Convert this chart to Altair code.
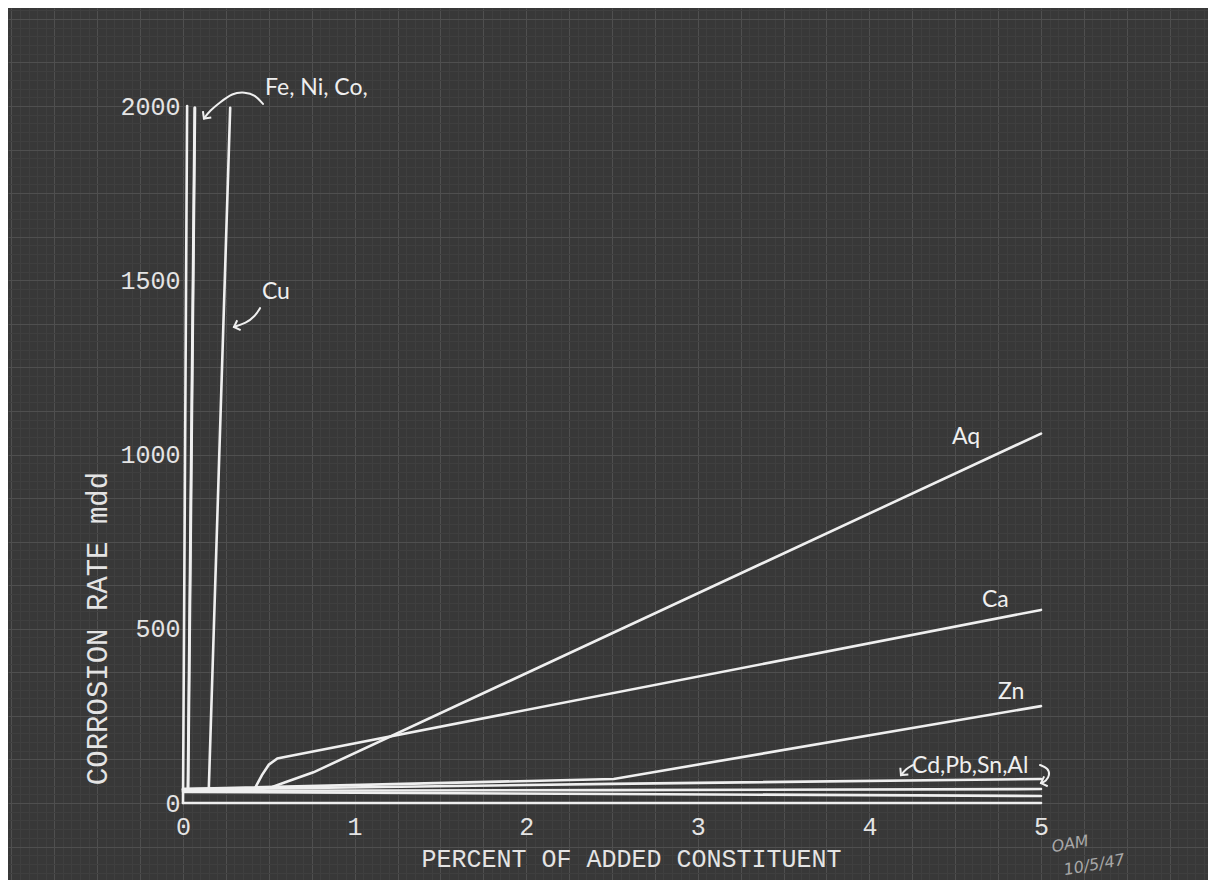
import altair as alt
import pandas as pd

# ---------------- data ----------------
fe_x = [0.0, 0.024];  fe_y = [0, 2000]
ni_x = [0.030, 0.070]; ni_y = [35, 1995]
co_x = [0.028, 0.068]; co_y = [35, 1995]
cu_x = [0.150, 0.275]; cu_y = [35, 1995]
ag_x = [0.0, 0.46, 0.52, 0.60, 0.76, 5.0]; ag_y = [38, 42, 46, 60, 88, 1060]
ca_x = [0.0, 0.42, 0.46, 0.50, 0.55, 0.60, 5.0]; ca_y = [40, 43, 80, 110, 128, 133, 554]
zn_x = [0.0, 2.51, 5.0]; zn_y = [40, 69, 278]
cd_x = [0.0, 2.5, 5.0]; cd_y = [38, 55, 69]
pb_x = [0.0, 2.5, 5.0]; pb_y = [35, 37, 40]
sn_x = [0.0, 2.5, 5.0]; sn_y = [32, 26, 20]
al_x = [0.0, 5.0];      al_y = [0, 0]

series = {
    "Fe": (fe_x, fe_y), "Ni": (ni_x, ni_y), "Co": (co_x, co_y), "Cu": (cu_x, cu_y),
    "Ag": (ag_x, ag_y), "Ca": (ca_x, ca_y), "Zn": (zn_x, zn_y), "Cd": (cd_x, cd_y),
    "Pb": (pb_x, pb_y), "Sn": (sn_x, sn_y), "Al": (al_x, al_y),
}

x_tick_values = [0, 1, 2, 3, 4, 5]
y_tick_values = [0, 500, 1000, 1500, 2000]

label_text = ["Fe, Ni, Co,", "Cu", "Aq", "Ca", "Zn", "Cd,Pb,Sn,Al"]
label_x = [0.478, 0.460, 4.481, 4.656, 4.749, 4.248]
label_y = [2052, 1466, 1050, 582, 318, 106]

# hand-drawn annotation arrows (data units)
fe_arrow_x = [0.466, 0.420, 0.361, 0.286, 0.216, 0.157, 0.122]
fe_arrow_y = [2006, 2032, 2040, 2037, 2010, 1987, 1964]
cu_arrow_x = [0.449, 0.420, 0.367, 0.297]
cu_arrow_y = [1420, 1397, 1377, 1366]
cd_arrow_x = [4.254, 4.213, 4.184]
cd_arrow_y = [109, 98, 80]
br_arrow_x = [4.994, 5.041, 5.052, 5.029, 5.000]
br_arrow_y = [109, 100, 80, 63, 57]
arrow_tip_angle = [37, 71, 40, 70]

sig_text = ["OAM", "10/5/47"]
sig_x = [5.17, 5.31]
sig_y = [-118, -178]

# ---------------- tables ----------------
rows = []
for name, (xs, ys) in series.items():
    for i, (a, b) in enumerate(zip(xs, ys)):
        rows.append({"series": name, "x": a, "y": b, "order": i})
lines_df = pd.DataFrame(rows)

arrows = {"fe": (fe_arrow_x, fe_arrow_y), "cu": (cu_arrow_x, cu_arrow_y),
          "cd": (cd_arrow_x, cd_arrow_y), "br": (br_arrow_x, br_arrow_y)}
arows, heads = [], []
for k, (name, (xs, ys)) in enumerate(arrows.items()):
    for i, (a, b) in enumerate(zip(xs, ys)):
        arows.append({"arrow": name, "x": a, "y": b, "order": i})
    heads.append({"arrow": name, "x": xs[-1], "y": ys[-1], "ang": arrow_tip_angle[k]})
arrow_df = pd.DataFrame(arows)
head_df = pd.DataFrame(heads)

label_df = pd.DataFrame({"text": label_text, "x": label_x, "y": label_y})
sig_df = pd.DataFrame({"text": sig_text, "x": sig_x, "y": sig_y})

# ---------------- layout ----------------
W, H = 1200, 872
X0, PX_PER_X = 175, 171.6
Y0, PX_PER_Y = 795, 0.3485
xdom = [-X0 / PX_PER_X, (W - X0) / PX_PER_X]
ydom = [-(H - Y0) / PX_PER_Y, Y0 / PX_PER_Y]

BG = "#383838"
INK = "#efefef"
TXT = "#e4e4e4"
GRID_FINE = "#3f3f3f"
GRID_MAJOR = "#4f4f4f"

xgrid_vals = [round(i * 0.05, 4) for i in range(-20, 120)]
ygrid_vals = list(range(-200, 2276, 25))

x_lab_expr = "indexof([%s], datum.value) >= 0 ? format(datum.value, 'd') : ''" % ",".join(str(v) for v in x_tick_values)
y_lab_expr = "indexof([%s], datum.value) >= 0 ? format(datum.value, 'd') : ''" % ",".join(str(v) for v in y_tick_values)

xaxis = alt.Axis(
    values=xgrid_vals, grid=True, domain=False, ticks=False, tickSize=0,
    gridColor={"condition": {"test": "abs(datum.value*4 - round(datum.value*4)) < 0.001", "value": GRID_MAJOR},
               "value": GRID_FINE},
    gridWidth=1,
    offset=-(H - Y0), labelExpr=x_lab_expr, labelOverlap=False, labelFlush=False,
    labelFont="Liberation Mono", labelFontSize=25, labelColor=TXT, labelPadding=23,
    labelBaseline="middle", labelAlign="center",
    title="PERCENT OF ADDED CONSTITUENT", titleFont="Liberation Mono", titleFontSize=25,
    titleFontWeight="normal", titleColor=TXT, titleX=623, titleY=55,
    titleBaseline="middle", titleAlign="center",
)
yaxis = alt.Axis(
    values=ygrid_vals, grid=True, domain=False, ticks=False, tickSize=0,
    gridColor={"condition": {"test": "datum.value % 125 == 0", "value": GRID_MAJOR},
               "value": GRID_FINE},
    gridWidth=1,
    offset=-X0, labelExpr=y_lab_expr, labelOverlap=False, labelFlush=False,
    labelFont="Liberation Mono", labelFontSize=25, labelColor=TXT, labelPadding=3,
    labelBaseline="middle",
    title="CORROSION RATE mdd", titleFont="Liberation Mono", titleFontSize=29,
    titleFontWeight="normal", titleColor=TXT, titleX=-86, titleY=620, titleAngle=270,
    titleBaseline="middle", titleAlign="center",
)

xs = alt.Scale(domain=xdom, nice=False, zero=False)
ys = alt.Scale(domain=ydom, nice=False, zero=False)
X = alt.X("x:Q", scale=xs, axis=xaxis)
Y = alt.Y("y:Q", scale=ys, axis=yaxis)

lines = alt.Chart(lines_df).mark_line(color=INK, strokeWidth=2.6, strokeCap="round").encode(
    x=X, y=Y, detail="series:N", order="order:Q")

arrow_lines = alt.Chart(arrow_df).mark_line(color=INK, strokeWidth=2, interpolate="basis",
                                            strokeCap="round").encode(
    x=X, y=Y, detail="arrow:N", order="order:Q")

heads_m = alt.Chart(head_df).mark_point(shape="M -1 -1 L 0 0 L 1 -1", filled=False, color=INK,
                                        strokeWidth=2, size=110, opacity=1).encode(
    x=X, y=Y, angle=alt.Angle("ang:Q", scale=None))

labels = alt.Chart(label_df).mark_text(align="left", baseline="middle", font="Lato", fontSize=23,
                                       color=INK).encode(x=X, y=Y, text="text:N")

sig = alt.Chart(sig_df).mark_text(align="center", baseline="middle", font="DejaVu Sans",
                                  fontStyle="italic", fontSize=16, color="#a8a8a8",
                                  angle=350).encode(x=X, y=Y, text="text:N")

chart = alt.layer(lines, arrow_lines, heads_m, labels, sig).properties(
    width=W, height=H, padding=0, autosize=alt.AutoSizeParams(type="none"),
    background=BG,
).configure_view(fill=BG, stroke="transparent")

chart.save("out.html", embed_options={"renderer": "svg", "actions": False})
